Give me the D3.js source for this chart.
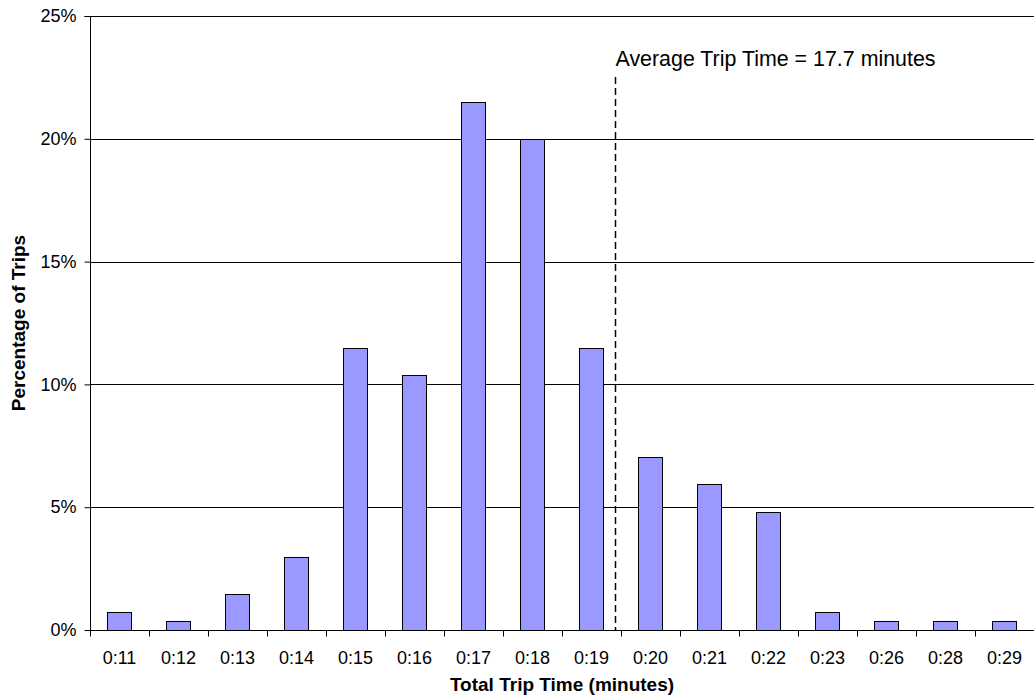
<!DOCTYPE html>
<html>
<head>
<meta charset="utf-8">
<script src="https://cdn.jsdelivr.net/npm/d3@7"></script>
<style>
  html, body { margin: 0; padding: 0; background: #fff; }
  svg { display: block; font-family: Arial, "Liberation Sans", sans-serif; }
</style>
</head>
<body>
<svg id="chart" width="1034" height="700"></svg>
<script>
// Data
const categories = ["0:11","0:12","0:13","0:14","0:15","0:16","0:17","0:18","0:19","0:20","0:21","0:22","0:23","0:26","0:28","0:29"];
const percentages = [0.74, 0.37, 1.48, 2.96, 11.48, 10.37, 21.48, 20.00, 11.48, 7.04, 5.93, 4.81, 0.74, 0.37, 0.37, 0.37];
const yTicks = [0, 5, 10, 15, 20, 25];
const avgLabel = "Average Trip Time = 17.7 minutes";
const avgLineCategoryPos = 8.89; // position along category axis (in category units)

const svg = d3.select("#chart");
const margin = { left: 90, right: 0, top: 16, bottom: 70 };
const W = 1034, H = 700;
const plotW = W - margin.left - margin.right;
const plotH = 630 - margin.top;

const g = svg.append("g").attr("transform", `translate(${margin.left},${margin.top})`);

const x = d3.scaleBand().domain(categories).range([0, plotW]).paddingInner(0.59).paddingOuter(0.295);
const xLin = d3.scaleLinear().domain([0, categories.length]).range([0, plotW]);
const y = d3.scaleLinear().domain([0, 25]).range([plotH, 0]);

// gridlines
g.selectAll(".grid").data(yTicks.filter(d => d > 0)).enter().append("line")
  .attr("x1", 0).attr("x2", plotW)
  .attr("y1", d => Math.round(y(d)) + 0.5).attr("y2", d => Math.round(y(d)) + 0.5)
  .attr("stroke", "#000").attr("stroke-width", 1);

// bars
g.selectAll(".bar").data(categories).enter().append("rect")
  .attr("x", d => Math.round(x(d)) + 0.5)
  .attr("y", (d, i) => Math.round(y(percentages[i])) + 0.5)
  .attr("width", Math.round(x.bandwidth()))
  .attr("height", (d, i) => Math.round(plotH) - Math.round(y(percentages[i])))
  .attr("fill", "#9999FF").attr("stroke", "#000").attr("stroke-width", 1);

// y axis
const yAxis = d3.axisLeft(y).tickValues(yTicks).tickSize(6).tickPadding(8).tickFormat(d => d + "%");
const ya = g.append("g").attr("transform", "translate(0.5,0)").call(yAxis);
ya.selectAll("path.domain").attr("stroke", "#000");
ya.selectAll(".tick line").attr("stroke", "#000");
ya.selectAll(".tick text").attr("font-size", 18).attr("fill", "#000").attr("font-family", "Arial, 'Liberation Sans', sans-serif");
ya.select("path.domain").attr("d", `M-6,${y(25)+0.5}H0V${plotH}`);

// x axis
const xa = g.append("g").attr("transform", `translate(0,${plotH + 0.5})`);
xa.append("line").attr("x1", 0).attr("x2", plotW).attr("y1", 0).attr("y2", 0).attr("stroke", "#000");
xa.selectAll(".xt").data(d3.range(categories.length)).enter().append("line")
  .attr("x1", i => Math.round(xLin(i)) + 0.5).attr("x2", i => Math.round(xLin(i)) + 0.5)
  .attr("y1", 0).attr("y2", 6).attr("stroke", "#000");
xa.selectAll(".xl").data(categories).enter().append("text")
  .attr("x", d => x(d) + x.bandwidth() / 2).attr("y", 33)
  .attr("text-anchor", "middle").attr("font-size", 18).attr("fill", "#000")
  .text(d => d);

// average line
const ax = Math.round(xLin(avgLineCategoryPos)) + 0.5;
g.append("line").attr("x1", ax).attr("x2", ax).attr("y1", 61).attr("y2", plotH)
  .attr("stroke", "#000").attr("stroke-width", 1.5).attr("stroke-dasharray", "7,4");
g.append("text").attr("x", ax).attr("y", 50).attr("font-size", 21.4).attr("fill", "#000").text(avgLabel);

// axis titles
svg.append("text").attr("x", margin.left + plotW / 2).attr("y", 691).attr("text-anchor", "middle")
  .attr("font-size", 19).attr("font-weight", "bold").text("Total Trip Time (minutes)");
svg.append("text").attr("transform", `translate(25,${margin.top + plotH / 2}) rotate(-90)`)
  .attr("text-anchor", "middle").attr("font-size", 19).attr("font-weight", "bold").text("Percentage of Trips");
</script>
</body>
</html>
